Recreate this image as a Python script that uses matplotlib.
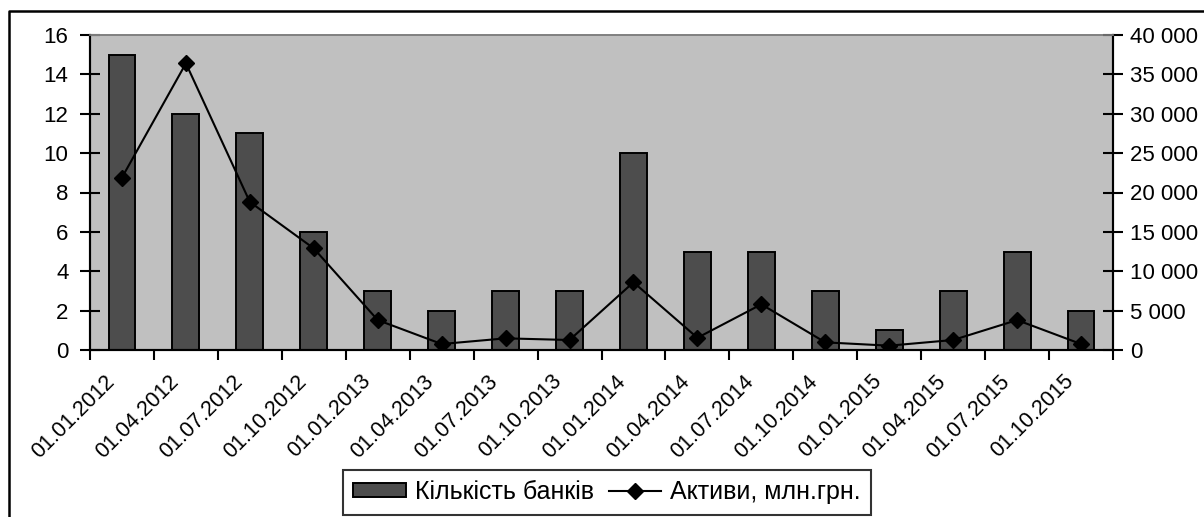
import matplotlib
matplotlib.use("Agg")
import matplotlib.pyplot as plt
from matplotlib.ticker import FuncFormatter, FixedLocator
from matplotlib.lines import Line2D
from matplotlib.patches import Patch

plt.rcParams['font.family'] = ['Liberation Sans', 'DejaVu Sans']

# Quarterly dates
dates = ["01.01.2012", "01.04.2012", "01.07.2012", "01.10.2012",
         "01.01.2013", "01.04.2013", "01.07.2013", "01.10.2013",
         "01.01.2014", "01.04.2014", "01.07.2014", "01.10.2014",
         "01.01.2015", "01.04.2015", "01.07.2015", "01.10.2015"]
# Number of banks (left axis)
banks = [15, 12, 11, 6, 3, 2, 3, 3, 10, 5, 5, 3, 1, 3, 5, 2]
# Assets, mln UAH (right axis)
assets = [21900, 36400, 18800, 12900, 3800, 760, 1480, 1270,
          8600, 1550, 5800, 970, 550, 1270, 3800, 760]

W, H = 1204, 517
fig = plt.figure(figsize=(W / 100, H / 100), dpi=100)
fig.patch.set_facecolor("white")

ax = fig.add_axes([90 / W, 1 - 350 / H, (1113 - 90) / W, (350 - 35) / H])
ax.set_facecolor("#C0C0C0")

x = list(range(len(dates)))
ax.bar(x, banks, width=0.42, color="#4D4D4D", edgecolor="black",
       linewidth=1.4, zorder=2, label="Кількість банків")
ax.set_xlim(-0.5, len(dates) - 0.5)
ax.set_ylim(0, 16)
ax.set_yticks(range(0, 17, 2))

ax2 = ax.twinx()
ax2.plot(x, assets, color="black", linewidth=1.5, marker="D",
         markersize=8, zorder=3, label="Активи, млн.грн.")
ax2.set_ylim(0, 40000)
ax2.set_yticks(range(0, 40001, 5000))
ax2.yaxis.set_major_formatter(
    FuncFormatter(lambda v, p: f"{int(v):,}".replace(",", " ")))

# Category boundary ticks on the x axis
ax.xaxis.set_major_locator(FixedLocator([i - 0.5 for i in range(len(dates) + 1)]))
ax.set_xticklabels([])
ax.tick_params(axis="x", direction="out", length=7, width=1.5, color="black")
ax.tick_params(axis="y", direction="inout", length=15, width=1.5,
               labelsize=16, pad=8)
ax2.tick_params(axis="y", direction="inout", length=15, width=1.5,
                labelsize=16, pad=5)

for a in (ax, ax2):
    for s in ("left", "right", "bottom"):
        a.spines[s].set_color("black")
        a.spines[s].set_linewidth(1.5)
    a.spines["top"].set_color("#808080")
    a.spines["top"].set_linewidth(1.2)

# Rotated date labels under each category
for i, lbl in enumerate(dates):
    ax.annotate(lbl, xy=(i, 0), xycoords=("data", "axes fraction"),
                xytext=(-13, -15), textcoords="offset points",
                rotation=45, ha="right", va="top", rotation_mode="anchor",
                fontsize=15.5)

handles = [Patch(facecolor="#4D4D4D", edgecolor="black", linewidth=1.4),
           Line2D([], [], color="black", linewidth=1.5, marker="D",
                  markersize=8)]
leg = fig.legend(handles, ["Кількість банків", "Активи, млн.грн."],
                 loc="center", bbox_to_anchor=(607 / W, 1 - 492 / H),
                 ncol=2, fontsize=18, frameon=True, fancybox=False,
                 edgecolor="black", handlelength=2.1, handleheight=0.52,
                 handletextpad=0.36, columnspacing=0.6, borderpad=0.42,
                 borderaxespad=0)
leg.get_frame().set_linewidth(1.5)

# Outer frame (left and top edges)
fig.add_artist(Line2D([9 / W, 9 / W, 1.01], [-0.01, 1 - 11 / H, 1 - 11 / H],
                      transform=fig.transFigure, color="black", linewidth=1.8))

fig.savefig("out.png", dpi=100)
